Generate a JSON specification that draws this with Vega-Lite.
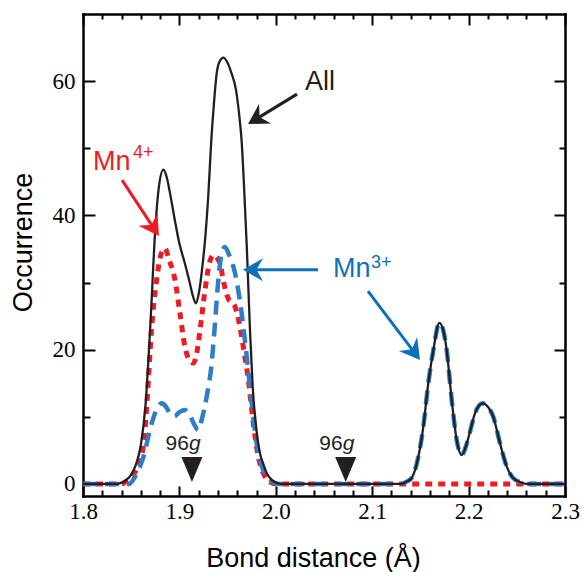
{
  "$schema": "https://vega.github.io/schema/vega-lite/v6.json",
  "width": 482,
  "height": 482,
  "autosize": "none",
  "padding": {"left": 83, "top": 14, "right": 17, "bottom": 76},
  "config": {"view": {"stroke": null}, "font": "Liberation Sans"},
  "datasets": {
    "curves": [
      {"s": "All", "d": 1.8, "v": 0}, {"s": "All", "d": 1.835, "v": 0}, {"s": "All", "d": 1.84, "v": 0.2}, {"s": "All", "d": 1.845, "v": 0.6},
      {"s": "All", "d": 1.85, "v": 1.4}, {"s": "All", "d": 1.855, "v": 2.9}, {"s": "All", "d": 1.86, "v": 5.8}, {"s": "All", "d": 1.865, "v": 12},
      {"s": "All", "d": 1.87, "v": 24}, {"s": "All", "d": 1.875, "v": 38}, {"s": "All", "d": 1.8785, "v": 44}, {"s": "All", "d": 1.8833, "v": 46.8},
      {"s": "All", "d": 1.887, "v": 45.6}, {"s": "All", "d": 1.89, "v": 43.5}, {"s": "All", "d": 1.895, "v": 39.5}, {"s": "All", "d": 1.9, "v": 35.8},
      {"s": "All", "d": 1.905, "v": 33.2}, {"s": "All", "d": 1.91, "v": 30.4}, {"s": "All", "d": 1.914, "v": 28}, {"s": "All", "d": 1.917, "v": 26.9},
      {"s": "All", "d": 1.92, "v": 28.3}, {"s": "All", "d": 1.924, "v": 32.6}, {"s": "All", "d": 1.927, "v": 37}, {"s": "All", "d": 1.93, "v": 43},
      {"s": "All", "d": 1.933, "v": 51}, {"s": "All", "d": 1.936, "v": 57}, {"s": "All", "d": 1.9387, "v": 61.2}, {"s": "All", "d": 1.942, "v": 63},
      {"s": "All", "d": 1.9456, "v": 63.5}, {"s": "All", "d": 1.949, "v": 63}, {"s": "All", "d": 1.954, "v": 61.2}, {"s": "All", "d": 1.9587, "v": 58.7},
      {"s": "All", "d": 1.962, "v": 55}, {"s": "All", "d": 1.9646, "v": 51}, {"s": "All", "d": 1.967, "v": 44.5}, {"s": "All", "d": 1.97, "v": 35},
      {"s": "All", "d": 1.9732, "v": 23}, {"s": "All", "d": 1.976, "v": 14.5}, {"s": "All", "d": 1.98, "v": 8}, {"s": "All", "d": 1.984, "v": 4.3},
      {"s": "All", "d": 1.987, "v": 3}, {"s": "All", "d": 1.99, "v": 1.8}, {"s": "All", "d": 1.995, "v": 0.7}, {"s": "All", "d": 2.0, "v": 0.2},
      {"s": "All", "d": 2.005, "v": 0}, {"s": "All", "d": 2.13, "v": 0}, {"s": "All", "d": 2.135, "v": 0.3}, {"s": "All", "d": 2.141, "v": 0.9},
      {"s": "All", "d": 2.1478, "v": 4}, {"s": "All", "d": 2.153, "v": 8.5}, {"s": "All", "d": 2.1582, "v": 15}, {"s": "All", "d": 2.1634, "v": 19.9},
      {"s": "All", "d": 2.1697, "v": 24}, {"s": "All", "d": 2.1735, "v": 23}, {"s": "All", "d": 2.1773, "v": 19.9}, {"s": "All", "d": 2.1825, "v": 12.5},
      {"s": "All", "d": 2.1877, "v": 6.5}, {"s": "All", "d": 2.1928, "v": 4.3}, {"s": "All", "d": 2.197, "v": 5.5}, {"s": "All", "d": 2.2015, "v": 7.8},
      {"s": "All", "d": 2.2066, "v": 10.5}, {"s": "All", "d": 2.2146, "v": 12}, {"s": "All", "d": 2.22, "v": 11.5}, {"s": "All", "d": 2.2256, "v": 10},
      {"s": "All", "d": 2.2325, "v": 6.1}, {"s": "All", "d": 2.2395, "v": 2.6}, {"s": "All", "d": 2.2464, "v": 0.85}, {"s": "All", "d": 2.255, "v": 0.2},
      {"s": "All", "d": 2.26, "v": 0}, {"s": "All", "d": 2.3, "v": 0},

      {"s": "Mn4+", "d": 1.8, "v": 0}, {"s": "Mn4+", "d": 1.84, "v": 0}, {"s": "Mn4+", "d": 1.845, "v": 0.4}, {"s": "Mn4+", "d": 1.85, "v": 0.9},
      {"s": "Mn4+", "d": 1.855, "v": 2}, {"s": "Mn4+", "d": 1.859, "v": 3.1}, {"s": "Mn4+", "d": 1.8643, "v": 8}, {"s": "Mn4+", "d": 1.8678, "v": 15.5},
      {"s": "Mn4+", "d": 1.871, "v": 22.9}, {"s": "Mn4+", "d": 1.8764, "v": 30.4}, {"s": "Mn4+", "d": 1.8805, "v": 34}, {"s": "Mn4+", "d": 1.885, "v": 35.1},
      {"s": "Mn4+", "d": 1.889, "v": 33.5}, {"s": "Mn4+", "d": 1.8954, "v": 30.4}, {"s": "Mn4+", "d": 1.9006, "v": 25.4}, {"s": "Mn4+", "d": 1.9058, "v": 20.4},
      {"s": "Mn4+", "d": 1.91, "v": 18.5}, {"s": "Mn4+", "d": 1.9145, "v": 18}, {"s": "Mn4+", "d": 1.918, "v": 19.5}, {"s": "Mn4+", "d": 1.9214, "v": 22.9},
      {"s": "Mn4+", "d": 1.9266, "v": 28.9}, {"s": "Mn4+", "d": 1.931, "v": 32.8}, {"s": "Mn4+", "d": 1.9353, "v": 34.1}, {"s": "Mn4+", "d": 1.942, "v": 32.9},
      {"s": "Mn4+", "d": 1.946, "v": 30}, {"s": "Mn4+", "d": 1.9507, "v": 27.6}, {"s": "Mn4+", "d": 1.9545, "v": 27}, {"s": "Mn4+", "d": 1.9577, "v": 26.4},
      {"s": "Mn4+", "d": 1.962, "v": 24}, {"s": "Mn4+", "d": 1.9663, "v": 20.4}, {"s": "Mn4+", "d": 1.9715, "v": 15.5}, {"s": "Mn4+", "d": 1.9767, "v": 9},
      {"s": "Mn4+", "d": 1.9819, "v": 4}, {"s": "Mn4+", "d": 1.987, "v": 1.6}, {"s": "Mn4+", "d": 1.994, "v": 0.3}, {"s": "Mn4+", "d": 2.0, "v": 0},
      {"s": "Mn4+", "d": 2.3, "v": 0},

      {"s": "Mn3+", "d": 1.8, "v": 0}, {"s": "Mn3+", "d": 1.848, "v": 0}, {"s": "Mn3+", "d": 1.854, "v": 1.1}, {"s": "Mn3+", "d": 1.8626, "v": 4},
      {"s": "Mn3+", "d": 1.8712, "v": 9}, {"s": "Mn3+", "d": 1.877, "v": 11.3}, {"s": "Mn3+", "d": 1.8817, "v": 12}, {"s": "Mn3+", "d": 1.886, "v": 11.5},
      {"s": "Mn3+", "d": 1.8902, "v": 10.5}, {"s": "Mn3+", "d": 1.895, "v": 10.1}, {"s": "Mn3+", "d": 1.9, "v": 10.7}, {"s": "Mn3+", "d": 1.9058, "v": 11},
      {"s": "Mn3+", "d": 1.911, "v": 10.2}, {"s": "Mn3+", "d": 1.9155, "v": 8.8}, {"s": "Mn3+", "d": 1.9196, "v": 8}, {"s": "Mn3+", "d": 1.923, "v": 9.5},
      {"s": "Mn3+", "d": 1.9283, "v": 13}, {"s": "Mn3+", "d": 1.9335, "v": 18}, {"s": "Mn3+", "d": 1.9369, "v": 23.9}, {"s": "Mn3+", "d": 1.9404, "v": 30.4},
      {"s": "Mn3+", "d": 1.9439, "v": 34.3}, {"s": "Mn3+", "d": 1.9473, "v": 35.3}, {"s": "Mn3+", "d": 1.951, "v": 34.3}, {"s": "Mn3+", "d": 1.9577, "v": 31.4},
      {"s": "Mn3+", "d": 1.9646, "v": 25.4}, {"s": "Mn3+", "d": 1.9698, "v": 19}, {"s": "Mn3+", "d": 1.975, "v": 12}, {"s": "Mn3+", "d": 1.9802, "v": 6},
      {"s": "Mn3+", "d": 1.987, "v": 2}, {"s": "Mn3+", "d": 1.995, "v": 0.5}, {"s": "Mn3+", "d": 2.0, "v": 0.1}, {"s": "Mn3+", "d": 2.005, "v": 0},
      {"s": "Mn3+", "d": 2.13, "v": 0}, {"s": "Mn3+", "d": 2.135, "v": 0.3}, {"s": "Mn3+", "d": 2.141, "v": 0.9},
      {"s": "Mn3+", "d": 2.1478, "v": 4}, {"s": "Mn3+", "d": 2.153, "v": 8.5}, {"s": "Mn3+", "d": 2.1582, "v": 15}, {"s": "Mn3+", "d": 2.1634, "v": 19.9},
      {"s": "Mn3+", "d": 2.1697, "v": 24}, {"s": "Mn3+", "d": 2.1735, "v": 23}, {"s": "Mn3+", "d": 2.1773, "v": 19.9}, {"s": "Mn3+", "d": 2.1825, "v": 12.5},
      {"s": "Mn3+", "d": 2.1877, "v": 6.5}, {"s": "Mn3+", "d": 2.1928, "v": 4.3}, {"s": "Mn3+", "d": 2.197, "v": 5.5}, {"s": "Mn3+", "d": 2.2015, "v": 7.8},
      {"s": "Mn3+", "d": 2.2066, "v": 10.5}, {"s": "Mn3+", "d": 2.2146, "v": 12}, {"s": "Mn3+", "d": 2.22, "v": 11.5}, {"s": "Mn3+", "d": 2.2256, "v": 10},
      {"s": "Mn3+", "d": 2.2325, "v": 6.1}, {"s": "Mn3+", "d": 2.2395, "v": 2.6}, {"s": "Mn3+", "d": 2.2464, "v": 0.85}, {"s": "Mn3+", "d": 2.255, "v": 0.2},
      {"s": "Mn3+", "d": 2.26, "v": 0}, {"s": "Mn3+", "d": 2.3, "v": 0}
    ],
    "names": [
      {"t": "All", "who": "All", "d": 2.0303, "v": 58.66},
      {"t": "Mn", "who": "Mn4+", "d": 1.8104, "v": 46.75},
      {"t": "Mn", "who": "Mn3+", "d": 2.0593, "v": 30.86}
    ],
    "sups": [
      {"t": "4+", "who": "Mn4+", "d": 1.8519, "v": 48.53},
      {"t": "3+", "who": "Mn3+", "d": 2.0988, "v": 32.11}
    ],
    "sites": [
      {"n": "96", "w": "g", "d": 1.913, "v": 2.16},
      {"n": "96", "w": "g", "d": 2.0725, "v": 2.16}
    ],
    "arrows": [
      {"id": "All", "who": "All", "d": 2.022, "v": 58.06, "d2": 1.9817, "v2": 54.53},
      {"id": "Mn4", "who": "Mn4+", "d": 1.8405, "v": 45.26, "d2": 1.872, "v2": 38.41},
      {"id": "Mn3a", "who": "Mn3+", "d": 2.0438, "v": 31.9, "d2": 1.9784, "v2": 31.9},
      {"id": "Mn3b", "who": "Mn3+", "d": 2.0956, "v": 28.73, "d2": 2.1421, "v2": 19.89}
    ],
    "heads": [
      {"id": "All", "d": 1.9712, "v": 53.6},
      {"id": "Mn4", "d": 1.8788, "v": 36.92},
      {"id": "Mn3a", "d": 1.966, "v": 31.9},
      {"id": "Mn3b", "d": 2.1496, "v": 18.46}
    ]
  },
  "layer": [
    {
      "data": {"name": "curves"},
      "transform": [{"filter": "datum.s == 'Mn4+'"}],
      "mark": {"type": "line", "color": "#ed1c24", "strokeWidth": 5, "strokeDash": [7, 6], "interpolate": "monotone"},
      "encoding": {
        "x": {"field": "d", "type": "quantitative", "scale": {"domain": [1.8, 2.3], "nice": false, "zero": false},
          "axis": {
            "orient": "bottom",
            "values": [1.8, 1.82, 1.84, 1.86, 1.88, 1.9, 1.92, 1.94, 1.96, 1.98, 2.0, 2.02, 2.04, 2.06, 2.08, 2.1, 2.12, 2.14, 2.16, 2.18, 2.2, 2.22, 2.24, 2.26, 2.28, 2.3],
            "labelExpr": "abs(datum.value*10 - round(datum.value*10)) < 0.01 ? format(datum.value, '.1f') : ''",
            "labelFont": "Liberation Serif", "labelFontSize": 23, "labelColor": "black", "labelPadding": 14,
            "labelFlush": false, "labelOverlap": false,
            "tickSize": {"condition": {"test": "abs(datum.value*10 - round(datum.value*10)) < 0.01", "value": -10}, "value": -6},
            "tickColor": "black", "tickWidth": 2,
            "domainColor": "black", "domainWidth": 2.5, "domainCap": "square", "grid": false,
            "title": "Bond distance (Å)", "titleFont": "Liberation Sans", "titleFontSize": 27, "titleFontWeight": "normal",
            "titleColor": "black", "titleX": 230, "titleY": 70, "titleAlign": "center", "titleBaseline": "alphabetic", "titleAngle": 0
          }
        },
        "y": {"field": "v", "type": "quantitative", "scale": {"domain": [-1.8, 70], "nice": false, "zero": false},
          "axis": {
            "orient": "left",
            "values": [0, 10, 20, 30, 40, 50, 60],
            "labelExpr": "datum.value % 20 == 0 ? datum.label : ''",
            "labelFont": "Liberation Serif", "labelFontSize": 23, "labelColor": "black", "labelPadding": 20,
            "labelFlush": false, "labelOverlap": false,
            "tickSize": {"condition": {"test": "datum.value % 20 == 0", "value": -12}, "value": -7},
            "tickColor": "black", "tickWidth": 2,
            "domainColor": "black", "domainWidth": 2.5, "domainCap": "square", "grid": false,
            "title": "Occurrence", "titleFont": "Liberation Sans", "titleFontSize": 27, "titleFontWeight": "normal",
            "titleColor": "black", "titleX": -52, "titleY": 228, "titleAlign": "center", "titleBaseline": "alphabetic", "titleAngle": -90
          }
        }
      }
    },
    {
      "data": {"name": "curves"},
      "transform": [{"filter": "datum.s == 'Mn3+'"}],
      "mark": {"type": "line", "color": "#2f7dc6", "strokeWidth": 4.5, "strokeDash": [14, 8], "interpolate": "monotone"},
      "encoding": {
        "x": {"field": "d", "type": "quantitative",
          "axis": {
            "orient": "top",
            "values": [1.8, 1.82, 1.84, 1.86, 1.88, 1.9, 1.92, 1.94, 1.96, 1.98, 2.0, 2.02, 2.04, 2.06, 2.08, 2.1, 2.12, 2.14, 2.16, 2.18, 2.2, 2.22, 2.24, 2.26, 2.28, 2.3],
            "labels": false, "title": null,
            "tickSize": {"condition": {"test": "abs(datum.value*10 - round(datum.value*10)) < 0.01", "value": -11}, "value": -5},
            "tickColor": "black", "tickWidth": 2,
            "domainColor": "black", "domainWidth": 2.5, "domainCap": "square", "grid": false
          }
        },
        "y": {"field": "v", "type": "quantitative",
          "axis": {
            "orient": "right",
            "values": [0, 10, 20, 30, 40, 50, 60],
            "labels": false, "title": null,
            "tickSize": {"condition": {"test": "datum.value % 20 == 0", "value": -11}, "value": -6},
            "tickColor": "black", "tickWidth": 2,
            "domainColor": "black", "domainWidth": 2.5, "domainCap": "square", "grid": false
          }
        }
      }
    },
    {
      "data": {"name": "curves"},
      "transform": [{"filter": "datum.s == 'All'"}],
      "mark": {"type": "line", "color": "#231f20", "strokeWidth": 2.3, "interpolate": "monotone"},
      "encoding": {
        "x": {"field": "d", "type": "quantitative", "axis": null},
        "y": {"field": "v", "type": "quantitative", "axis": null}
      }
    },
    {
      "data": {"name": "arrows"},
      "mark": {"type": "rule", "strokeWidth": 3},
      "encoding": {
        "x": {"field": "d", "type": "quantitative", "axis": null},
        "y": {"field": "v", "type": "quantitative", "axis": null},
        "x2": {"field": "d2"},
        "y2": {"field": "v2"},
        "color": {"field": "who", "type": "nominal", "scale": {"domain": ["All", "Mn4+", "Mn3+"], "range": ["#231f20", "#ed1c24", "#0b72ba"]}, "legend": null}
      }
    },
    {
      "data": {"name": "heads"},
      "transform": [{"filter": "datum.id == 'All'"}],
      "mark": {"type": "point", "shape": "M0,0L-1.74,-1L-1.17,0L-1.74,1Z", "size": 529, "filled": true, "opacity": 1, "strokeWidth": 0, "angle": 148.5, "color": "#231f20"},
      "encoding": {
        "x": {"field": "d", "type": "quantitative", "axis": null},
        "y": {"field": "v", "type": "quantitative", "axis": null}
      }
    },
    {
      "data": {"name": "heads"},
      "transform": [{"filter": "datum.id == 'Mn4'"}],
      "mark": {"type": "point", "shape": "M0,0L-1.74,-1L-1.17,0L-1.74,1Z", "size": 529, "filled": true, "opacity": 1, "strokeWidth": 0, "angle": 56.5, "color": "#ed1c24"},
      "encoding": {
        "x": {"field": "d", "type": "quantitative", "axis": null},
        "y": {"field": "v", "type": "quantitative", "axis": null}
      }
    },
    {
      "data": {"name": "heads"},
      "transform": [{"filter": "datum.id == 'Mn3a'"}],
      "mark": {"type": "point", "shape": "M0,0L-1.74,-1L-1.17,0L-1.74,1Z", "size": 529, "filled": true, "opacity": 1, "strokeWidth": 0, "angle": 180, "color": "#0b72ba"},
      "encoding": {
        "x": {"field": "d", "type": "quantitative", "axis": null},
        "y": {"field": "v", "type": "quantitative", "axis": null}
      }
    },
    {
      "data": {"name": "heads"},
      "transform": [{"filter": "datum.id == 'Mn3b'"}],
      "mark": {"type": "point", "shape": "M0,0L-1.74,-1L-1.17,0L-1.74,1Z", "size": 529, "filled": true, "opacity": 1, "strokeWidth": 0, "angle": 53, "color": "#0b72ba"},
      "encoding": {
        "x": {"field": "d", "type": "quantitative", "axis": null},
        "y": {"field": "v", "type": "quantitative", "axis": null}
      }
    },
    {
      "data": {"name": "names"},
      "mark": {"type": "text", "align": "left", "baseline": "alphabetic", "font": "Liberation Sans", "fontSize": 27},
      "encoding": {
        "x": {"field": "d", "type": "quantitative", "axis": null},
        "y": {"field": "v", "type": "quantitative", "axis": null},
        "text": {"field": "t"},
        "color": {"field": "who", "type": "nominal", "legend": null}
      }
    },
    {
      "data": {"name": "sups"},
      "mark": {"type": "text", "align": "left", "baseline": "alphabetic", "font": "Liberation Sans", "fontSize": 18},
      "encoding": {
        "x": {"field": "d", "type": "quantitative", "axis": null},
        "y": {"field": "v", "type": "quantitative", "axis": null},
        "text": {"field": "t"},
        "color": {"field": "who", "type": "nominal", "legend": null}
      }
    },
    {
      "data": {"name": "sites"},
      "mark": {"type": "point", "shape": "M-0.84,-1L0.84,-1L0,1Z", "size": 625, "filled": true, "opacity": 1, "strokeWidth": 0, "color": "#231f20"},
      "encoding": {
        "x": {"field": "d", "type": "quantitative", "axis": null},
        "y": {"field": "v", "type": "quantitative", "axis": null}
      }
    },
    {
      "data": {"name": "sites"},
      "mark": {"type": "text", "align": "right", "baseline": "alphabetic", "font": "Liberation Sans", "fontSize": 21, "dx": -3, "dy": -19.5, "color": "#231f20"},
      "encoding": {
        "x": {"field": "d", "type": "quantitative", "axis": null},
        "y": {"field": "v", "type": "quantitative", "axis": null},
        "text": {"field": "n"}
      }
    },
    {
      "data": {"name": "sites"},
      "mark": {"type": "text", "align": "left", "baseline": "alphabetic", "font": "Liberation Sans", "fontSize": 21, "fontStyle": "italic", "dx": -3, "dy": -19.5, "color": "#231f20"},
      "encoding": {
        "x": {"field": "d", "type": "quantitative", "axis": null},
        "y": {"field": "v", "type": "quantitative", "axis": null},
        "text": {"field": "w"}
      }
    }
  ],
  "resolve": {"axis": {"x": "independent", "y": "independent"}}
}
